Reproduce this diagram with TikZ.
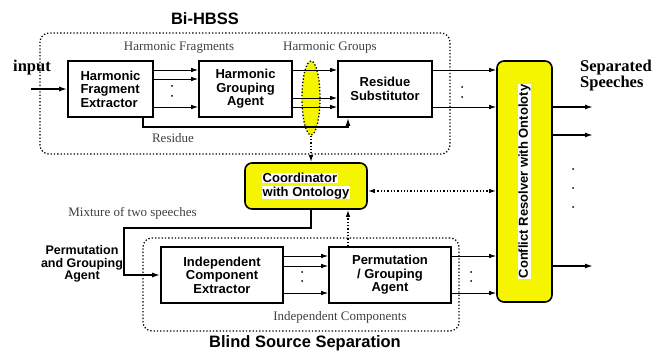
\documentclass[tikz,border=0pt]{standalone}
\usepackage{fontspec}
\usepackage{graphicx}
\setmainfont{Liberation Serif}
\setsansfont{Liberation Sans}
\usetikzlibrary{shapes.geometric,arrows.meta}
\definecolor{onto-yellow}{RGB}{245,245,0}
\definecolor{note-gray}{gray}{0.25}
\tikzstyle{unit}=[draw,line width=1.6pt,align=center,font=\sffamily\bfseries\fontsize{13}{13.5}\selectfont]
\tikzstyle{ontobox}=[unit,fill=onto-yellow,rounded corners=7pt]
\tikzstyle{groupbox}=[draw,dotted,line width=1.3pt,rounded corners=9pt]
\tikzstyle{flow}=[line width=0.9pt,-{Latex[length=7pt,width=4.5pt]}]
\tikzstyle{thickflow}=[line width=1.5pt,-{Latex[length=8pt,width=5pt]}]
\tikzstyle{ontoflow}=[line width=1.3pt,dotted,-{Latex[length=7pt,width=4.5pt]}]
\tikzstyle{ontolink}=[line width=1.3pt,dotted,{Latex[length=7pt,width=4.5pt]}-{Latex[length=7pt,width=4.5pt]}]
\tikzstyle{note}=[font=\fontsize{13}{15}\selectfont,text=note-gray,anchor=base,inner sep=0pt]
\tikzstyle{title}=[font=\sffamily\bfseries\fontsize{16.5}{18}\selectfont,anchor=base,inner sep=0pt]
\tikzstyle{side}=[font=\bfseries\fontsize{16.5}{16}\selectfont,align=left,inner sep=0pt]
\newcommand{\whitebg}[1]{{\setlength{\fboxsep}{0.6pt}\colorbox{white}{#1}}}
\newcommand{\twodots}[3][10]{ % [gap] x, top y
  \fill (#2,#3) circle (1pt) (#2,#3+#1) circle (1pt);
}

\begin{document}
\begin{tikzpicture}[x=1pt,y=-1pt]
	\useasboundingbox (0,0) rectangle (656,352);
	% the two subsystems
	\node[groupbox,minimum width=410pt,minimum height=121pt] (bihbss) at (245,93.5) {};
	\node[groupbox,minimum width=316pt,minimum height=93pt] (bss) at (301,284.5) {};
	\node[title] (bihbsslbl) at (205,25) {Bi-HBSS};
	\node[title] (bsslbl) at (305,348) {Blind Source Separation};

	% processing units
	\node[unit,align=left,minimum width=85pt,minimum height=56pt] (hfe) at (110.5,89) {Harmonic\\Fragment\\Extractor};
	\node[unit,minimum width=93pt,minimum height=56pt] (hga) at (245.5,89) {Harmonic\\Grouping\\Agent};
	\node[unit,minimum width=94pt,minimum height=56pt] (rs) at (385,89) {Residue\\Substitutor};
	\node[unit,minimum width=122pt,minimum height=56pt] (ice) at (222,275) {Independent\\Component\\Extractor};
	\node[unit,minimum width=122pt,minimum height=56pt] (pga) at (390,275) {Permutation\\/ Grouping\\Agent};
	\node[ontobox,align=left,minimum width=122pt,minimum height=46pt] (coord) at (306,186) {\whitebg{Coordinator}\\\whitebg{with Ontology}};
	\node[ontobox,minimum width=55pt,minimum height=241pt] (cr) at (524.5,181.5) {\rotatebox{90}{\whitebg{Conflict Resolver with Ontoloty}}};
	\node[ellipse,draw,dotted,line width=1.3pt,fill=onto-yellow,inner sep=0pt,minimum width=18pt,minimum height=74pt] (grp) at (311,98) {};

	% labels
	\node[side,anchor=north west] (inlbl) at (13,60) {input};
	\node[side,anchor=north west] (outlbl) at (580,60) {Separated\\Speeches};
	\node[note] (fraglbl) at (179,51) {Harmonic Fragments};
	\node[note] (grouplbl) at (330,51) {Harmonic Groups};
	\node[note] (residuelbl) at (173,143) {Residue};
	\node[note] (mixlbl) at (132.5,217) {Mixture of two speeches};
	\node[note] (complbl) at (340,321) {Independent Components};
	\node[align=center,inner sep=0pt,anchor=north,font=\sffamily\bfseries\fontsize{12.5}{12.8}\selectfont] (pgalbl) at (82,245) {Permutation\\and Grouping\\Agent};

	% Bi-HBSS flow
	\coordinate (src) at (31,89);
	\draw[thickflow] (src) -- (hfe.west);
	\foreach \dy in {19,10,-18}
		\draw[flow] ([yshift=\dy pt]hfe.east) -- ([yshift=\dy pt]hga.west);
	\twodots{172}{86}
	\foreach \dy in {19,-9,-18}
		\draw[flow] ([yshift=\dy pt]hga.east) -- ([yshift=\dy pt]rs.west);
	\draw[thickflow] ([xshift=32.5pt]hfe.south) -- ++(0,9) -| ([xshift=-37pt]rs.south);
	\foreach \dy in {19,-18}
		\draw[flow] ([yshift=\dy pt]rs.east) coordinate (p) -- (p -| cr.west);
	\twodots{462}{87}

	% BSS flow
	\coordinate (mixturn) at (124,228);
	\draw[thickflow] ([xshift=5pt]coord.south) |- (mixturn) |- (ice.west);
	\foreach \dy in {19,9,-18}
		\draw[flow] ([yshift=\dy pt]ice.east) -- ([yshift=\dy pt]pga.west);
	\twodots[9]{302}{272}
	\foreach \dy in {19,-18}
		\draw[flow] ([yshift=\dy pt]pga.east) coordinate (p) -- (p -| cr.west);
	\twodots[9]{471}{272}

	% ontology links
	\draw[ontoflow] (grp.south) -- (grp.south |- coord.north);
	\draw[ontolink] ([yshift=-5pt]coord.east) coordinate (q) -- (q -| cr.west);
	\draw[ontoflow] ([xshift=-42pt]pga.north) coordinate (r) -- (r |- coord.south);

	% separated speeches
	\foreach \i/\oy in {1/107,2/135,3/266} {
		\coordinate (out\i) at (593,\oy);
		\draw[thickflow] (out\i -| cr.east) -- (out\i);
	}
	\foreach \oy in {169,188,207}
		\fill (573,\oy) circle (1pt);
\end{tikzpicture}
\end{document}
